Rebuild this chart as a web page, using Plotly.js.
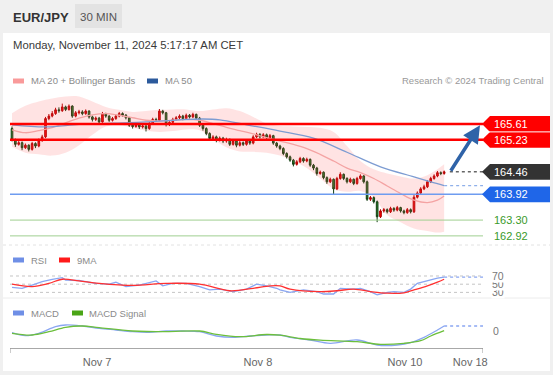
<!DOCTYPE html>
<html><head><meta charset="utf-8">
<script src="https://cdn.plot.ly/plotly-3.0.1.min.js"></script>
<style>html,body{margin:0;padding:0;background:#f0f0f0;}#chart{width:553px;height:375px;}</style>
</head><body><div id="chart"></div>
<script>
// ---------- DATA ----------
const opens = [
165.50,165.23,165.12,165.16,165.04,165.10,165.00,165.14,165.08,165.22,
165.30,165.74,165.80,165.86,165.95,165.93,166.02,165.96,166.04,165.80,
165.88,165.90,165.86,165.92,165.78,165.72,165.75,165.66,165.85,165.80,
165.70,165.74,165.80,165.86,165.82,165.76,165.58,165.55,165.60,165.54,
165.56,165.50,165.62,165.72,165.70,165.92,165.88,165.60,165.65,165.72,
165.76,165.80,165.74,165.82,165.78,165.84,165.75,165.58,165.50,165.38,
165.26,165.30,165.22,165.27,165.20,165.24,165.12,165.20,165.10,165.16,
165.12,165.20,165.15,165.30,165.36,165.30,165.35,165.28,165.33,165.15,
165.08,165.02,164.90,164.82,164.74,164.64,164.70,164.78,164.72,164.76,
164.62,164.55,164.42,164.45,164.32,164.22,164.28,164.05,164.30,164.40,
164.30,164.22,164.28,164.18,164.30,164.36,164.22,163.80,163.84,163.74,
163.38,163.52,163.55,163.50,163.58,163.54,163.60,163.52,163.48,163.55,
163.50,163.85,163.95,164.05,164.10,164.22,164.30,164.36,164.44,164.42];
const highs = [
165.55,165.26,165.20,165.19,165.14,165.12,165.18,165.17,165.26,165.35,
165.78,165.85,165.92,166.00,166.01,166.10,166.05,166.08,166.06,165.92,
165.95,165.94,165.96,165.94,165.81,165.79,165.78,165.90,165.88,165.82,
165.78,165.84,165.90,165.89,165.85,165.78,165.62,165.64,165.63,165.60,
165.59,165.66,165.76,165.76,165.97,165.95,165.90,165.69,165.76,165.80,
165.84,165.83,165.86,165.85,165.88,165.86,165.78,165.61,165.53,165.41,
165.34,165.33,165.31,165.30,165.28,165.26,165.24,165.22,165.20,165.19,
165.24,165.23,165.34,165.40,165.39,165.39,165.38,165.37,165.35,165.18,
165.11,165.05,164.93,164.85,164.77,164.74,164.82,164.81,164.80,164.78,
164.65,164.58,164.49,164.47,164.35,164.32,164.30,164.34,164.45,164.42,
164.33,164.32,164.30,164.34,164.40,164.38,164.25,163.88,163.87,163.77,
163.56,163.59,163.58,163.62,163.61,163.64,163.62,163.55,163.59,163.58,
163.90,163.99,164.09,164.15,164.26,164.34,164.40,164.48,164.47,164.49];
const lows = [
165.19,165.06,165.09,164.98,165.01,164.95,164.97,165.03,165.05,165.18,
165.27,165.70,165.77,165.83,165.88,165.90,165.92,165.93,165.76,165.77,
165.84,165.82,165.83,165.74,165.67,165.68,165.62,165.64,165.76,165.66,
165.67,165.71,165.77,165.78,165.72,165.54,165.50,165.52,165.49,165.50,
165.43,165.47,165.59,165.66,165.68,165.84,165.55,165.56,165.62,165.69,
165.72,165.70,165.71,165.74,165.75,165.71,165.54,165.45,165.34,165.21,
165.22,165.17,165.19,165.15,165.16,165.08,165.09,165.05,165.07,165.08,
165.09,165.11,165.12,165.27,165.26,165.27,165.24,165.25,165.11,165.04,
164.98,164.86,164.78,164.70,164.59,164.61,164.67,164.68,164.69,164.58,
164.50,164.37,164.39,164.28,164.17,164.19,163.92,164.02,164.27,164.26,
164.18,164.19,164.14,164.15,164.27,164.18,163.76,163.76,163.70,163.25,
163.35,163.48,163.46,163.47,163.50,163.51,163.48,163.44,163.45,163.46,
163.47,163.82,163.92,164.02,164.07,164.19,164.27,164.33,164.38,164.39];
const closes = [
165.23,165.12,165.16,165.04,165.10,165.00,165.14,165.08,165.22,165.30,
165.74,165.80,165.86,165.95,165.93,166.02,165.96,166.04,165.80,165.88,
165.90,165.86,165.92,165.78,165.72,165.75,165.66,165.85,165.80,165.70,
165.74,165.80,165.86,165.82,165.76,165.58,165.55,165.60,165.54,165.56,
165.50,165.62,165.72,165.70,165.92,165.88,165.60,165.65,165.72,165.76,
165.80,165.74,165.82,165.78,165.84,165.75,165.58,165.50,165.38,165.26,
165.30,165.22,165.27,165.20,165.24,165.12,165.20,165.10,165.16,165.12,
165.20,165.15,165.30,165.36,165.30,165.35,165.28,165.33,165.15,165.08,
165.02,164.90,164.82,164.74,164.64,164.70,164.78,164.72,164.76,164.62,
164.55,164.42,164.45,164.32,164.22,164.28,164.05,164.30,164.40,164.30,
164.22,164.28,164.18,164.30,164.36,164.22,163.80,163.84,163.74,163.38,
163.52,163.55,163.50,163.58,163.54,163.60,163.52,163.48,163.55,163.50,
163.85,163.95,164.05,164.10,164.22,164.30,164.36,164.44,164.42,164.46];

const bbIdx   = [0,4,8,12,16,20,24,28,32,36,40,44,48,52,56,60,64,68,72,76,80,84,88,92,96,100,104,108,112,116,120,124,127,129];
const bbUpper = [165.87,166.05,166.15,166.22,166.27,166.27,166.15,166.02,165.95,165.90,165.92,165.95,165.96,165.96,165.92,165.96,165.99,165.92,165.78,165.62,165.56,165.55,165.54,165.52,165.42,165.08,164.72,164.52,164.42,164.35,164.30,164.38,164.52,164.64];
const ma20    = [165.47,165.40,165.45,165.52,165.64,165.75,165.83,165.86,165.82,165.76,165.70,165.68,165.70,165.72,165.70,165.62,165.53,165.45,165.37,165.28,165.20,165.12,165.02,164.88,164.72,164.55,164.44,164.30,164.12,163.94,163.78,163.72,163.78,163.88];
const bbLower = [165.06,164.92,164.88,164.85,164.92,165.10,165.35,165.55,165.58,165.52,165.45,165.42,165.44,165.48,165.46,165.25,165.05,164.95,164.94,164.92,164.85,164.72,164.55,164.30,164.05,163.98,164.00,163.85,163.42,163.25,163.10,163.04,163.00,163.02];

const ma50Idx = [0,10,20,30,40,50,57,62,70,80,90,100,110,120,125,129];
const ma50    = [165.59,165.54,165.60,165.63,165.66,165.71,165.73,165.71,165.59,165.44,165.27,164.93,164.58,164.34,164.22,164.13];

const rsiIdx = [0,3,6,9,12,15,16,20,25,29,31,34,38,42,43,45,48,52,56,59,62,66,70,73,76,79,80,83,87,91,93,96,98,102,104,107,109,112,114,117,119,121,124,127,129];
const rsi    = [42,40,48,56,62,66,60,59,52,50,55,44,48,55,58,46,52,52,44,36,38,32,38,50,46,40,36,30,36,32,26,26,40,38,40,32,24,30,32,30,38,52,58,65,67];
const rsiMaIdx = [0,6,11,15,20,26,36,46,56,65,72,77,80,83,92,97,102,107,112,117,120,124,127,129];
const rsiMa    = [50,44,52,62,58,52,47,52,50,34,40,46,46,38,32,34,38,32,28,29,36,46,55,62];
const rsiLevels = [70,50,30];

const macdIdx = [0,4,8,13,16,21,26,31,36,41,46,51,56,61,66,71,76,80,83,89,95,103,109,115,119,123,127,129];
const macd    = [-0.020,-0.050,-0.026,0.040,0.057,0.047,0.024,0.007,-0.010,-0.016,-0.003,-0.003,-0.010,-0.053,-0.066,-0.053,-0.043,-0.043,-0.066,-0.093,-0.126,-0.093,-0.143,-0.143,-0.120,-0.066,0.007,0.047];
const sigIdx  = [0,6,11,16,21,26,36,46,56,61,68,76,80,86,92,103,110,117,122,125,129];
const signal  = [-0.026,-0.043,-0.010,0.034,0.047,0.030,-0.003,-0.010,-0.003,-0.036,-0.060,-0.038,-0.045,-0.078,-0.095,-0.110,-0.136,-0.126,-0.100,-0.053,0.000];

const resistances = [165.61,165.23];
const lastPrice = 164.46;
const pivot = 163.92;
const supports = [163.30,162.92];
const arrowFrom = [130.7,164.45];
const arrowTo   = [139.7,165.58];

const tickPos    = [25.4,73.4,117.3,136.8];
const tickLabels = ['Nov 7','Nov 8','Nov 10','Nov 18'];

// ---------- LAYOUT HELPERS ----------
const W=553,H=375;
const px=x=>x/W, py=y=>1-y/H;
const FONT='Liberation Sans, Arial, sans-serif';
const xs = closes.map((_,i)=>i);
const X0=-0.6, X1=140.6;
const lastI = xs[xs.length-1];

const traces=[];
traces.push({x:bbIdx,y:bbLower,type:'scatter',mode:'lines',line:{width:0,shape:'spline'},hoverinfo:'skip',yaxis:'y'});
traces.push({x:bbIdx,y:bbUpper,type:'scatter',mode:'lines',line:{width:0,shape:'spline'},fill:'tonexty',fillcolor:'rgba(255,80,80,0.16)',hoverinfo:'skip',yaxis:'y'});
traces.push({x:bbIdx,y:ma20,type:'scatter',mode:'lines',line:{color:'#f4a3a3',width:1.3,shape:'spline'},yaxis:'y'});
traces.push({x:ma50Idx,y:ma50,type:'scatter',mode:'lines',line:{color:'#7d9cd2',width:1.3,shape:'spline'},yaxis:'y'});
traces.push({x:[lastI,X1],y:[ma50[ma50.length-1],ma50[ma50.length-1]],type:'scatter',mode:'lines',line:{color:'#8fb0ea',width:1.3,dash:'dot'},yaxis:'y'});
traces.push({x:[arrowFrom[0],X1],y:[lastPrice,lastPrice],type:'scatter',mode:'lines',line:{color:'#666',width:1.5,dash:'dot'},yaxis:'y'});
traces.push({type:'candlestick',x:xs,open:opens,high:highs,low:lows,close:closes,yaxis:'y',
  increasing:{line:{color:'#b30000',width:1},fillcolor:'#ff0000'},
  decreasing:{line:{color:'#123d12',width:1},fillcolor:'#2b8a2b'},whiskerwidth:0});
rsiLevels.forEach(v=>traces.push({x:[X0,X1],y:[v,v],type:'scatter',mode:'lines',line:{color:'#c4c4c4',width:1,dash:'dot'},yaxis:'y2'}));
traces.push({x:rsiIdx,y:rsi,type:'scatter',mode:'lines',line:{color:'#8aa6f2',width:1.3},yaxis:'y2'});
traces.push({x:[lastI,X1],y:[rsi[rsi.length-1],rsi[rsi.length-1]],type:'scatter',mode:'lines',line:{color:'#8aa6f2',width:1.3,dash:'dot'},yaxis:'y2'});
traces.push({x:rsiMaIdx,y:rsiMa,type:'scatter',mode:'lines',line:{color:'#ff3030',width:1.3,shape:'spline'},yaxis:'y2'});
traces.push({x:macdIdx,y:macd,type:'scatter',mode:'lines',line:{color:'#8aa6f2',width:1.3,shape:'spline'},yaxis:'y3'});
traces.push({x:[lastI,X1],y:[macd[macd.length-1],macd[macd.length-1]],type:'scatter',mode:'lines',line:{color:'#8aa6f2',width:1.3,dash:'dot'},yaxis:'y3'});
traces.push({x:sigIdx,y:signal,type:'scatter',mode:'lines',line:{color:'#6cbf3c',width:1.3,shape:'spline'},yaxis:'y3'});

const shapes=[];
shapes.push({type:'rect',xref:'paper',yref:'paper',x0:px(3),x1:px(550),y0:py(371),y1:py(33),fillcolor:'#ffffff',line:{width:0},layer:'below'});
shapes.push({type:'rect',xref:'paper',yref:'paper',x0:px(75),x1:px(122),y0:py(28),y1:py(4),fillcolor:'#e3e3e3',line:{width:0},layer:'below'});
shapes.push({type:'line',xref:'paper',yref:'paper',x0:px(3),x1:px(550),y0:py(245),y1:py(245),line:{color:'#e2e2e2',width:1,dash:'dot'}});
shapes.push({type:'line',xref:'paper',yref:'paper',x0:px(3),x1:px(550),y0:py(298),y1:py(298),line:{color:'#ececec',width:1}});
resistances.forEach(v=>shapes.push({type:'line',xref:'x',yref:'y',x0:X0,x1:X1,y0:v,y1:v,line:{color:'#ff0000',width:2.5}}));
shapes.push({type:'line',xref:'x',yref:'y',x0:X0,x1:X1,y0:pivot,y1:pivot,line:{color:'#6e9cf0',width:1.5}});
supports.forEach(v=>shapes.push({type:'line',xref:'x',yref:'y',x0:X0,x1:X1,y0:v,y1:v,line:{color:'#9fcf90',width:1}}));
[X0,X1].forEach(v=>shapes.push({type:'line',xref:'x',yref:'paper',x0:v,x1:v,y0:py(348),y1:py(353),line:{color:'#999',width:1}}));
const sw=(x,y,c)=>shapes.push({type:'rect',xref:'paper',yref:'paper',x0:px(x),x1:px(x+11),y0:py(y+2.5),y1:py(y-2.5),fillcolor:c,line:{width:0}});
sw(13,81,'#f99a9a'); sw(147,81,'#2c5a9c');
sw(13,260,'#6f8fe6'); sw(59,260,'#ff1a1a');
sw(13,313,'#6f8fe6'); sw(72,313,'#4aa516');

const tagH=0.19;
const tag=(v,c)=>shapes.push({type:'path',xref:'paper',yref:'y',
  path:`M ${px(482)},${v} L ${px(490)},${v+tagH} L ${px(550)},${v+tagH} L ${px(550)},${v-tagH} L ${px(490)},${v-tagH} Z`,
  fillcolor:c,line:{width:0}});
resistances.forEach(v=>tag(v,'#ff0000'));
tag(lastPrice,'#333333');
tag(pivot,'#1f66e8');
shapes.push({type:'line',xref:'paper',yref:'y',x0:px(488),x1:px(550),y0:(resistances[0]+resistances[1])/2,y1:(resistances[0]+resistances[1])/2,line:{color:'#ffffff',width:1}});

const ann=[];
const txt=(x,y,t,o)=>ann.push(Object.assign({xref:'paper',yref:'paper',x:px(x),y:py(y),xanchor:'left',yanchor:'middle',text:t,showarrow:false,font:{family:FONT,size:9.5,color:'#8a8a8a'}},o||{}));
txt(11,17,'<b>EUR/JPY</b>',{font:{family:FONT,size:13,color:'#333'}});
txt(98.5,16.5,'30 MIN',{xanchor:'center',font:{family:FONT,size:11.5,color:'#555'}});
txt(11,45,'Monday, November 11, 2024 5:17:17 AM CET',{font:{family:FONT,size:11.3,color:'#3a3a3a'}});
txt(29,81,'MA 20 + Bollinger Bands');
txt(163,81,'MA 50');
txt(546,81,'Research © 2024 Trading Central',{xanchor:'right',font:{family:FONT,size:9.5,color:'#999'}});
txt(29,260,'RSI'); txt(75,260,'9MA');
txt(29,313,'MACD'); txt(87,313,'MACD Signal');
const ptxt=(v,t,c)=>ann.push({xref:'paper',yref:'y',x:px(492),y:v,xanchor:'left',yanchor:'middle',text:t,showarrow:false,font:{family:FONT,size:11,color:c}});
resistances.forEach(v=>ptxt(v,v.toFixed(2),'#ffffff'));
ptxt(lastPrice,lastPrice.toFixed(2),'#ffffff');
ptxt(pivot,pivot.toFixed(2),'#ffffff');
supports.forEach(v=>ptxt(v,v.toFixed(2),'#3a9a2a'));
[...rsiLevels].reverse().forEach(v=>ann.push({xref:'paper',yref:'y2',x:px(491),y:v,xanchor:'left',yanchor:'middle',text:String(v),showarrow:false,bgcolor:'#ffffff',borderpad:0,font:{family:FONT,size:10.5,color:'#777'}}));
ann.push({xref:'paper',yref:'y3',x:px(491),y:0,xanchor:'left',yanchor:'middle',text:'0',showarrow:false,font:{family:FONT,size:10.5,color:'#777'}});
ann.push({xref:'x',yref:'y',axref:'x',ayref:'y',x:arrowTo[0],y:arrowTo[1],ax:arrowFrom[0],ay:arrowFrom[1],text:'',showarrow:true,arrowhead:2,arrowsize:1,arrowwidth:3.5,arrowcolor:'#2f63a8',standoff:0,startstandoff:0});

const layout={
  width:W,height:H,margin:{l:0,r:0,t:0,b:0},
  paper_bgcolor:'#f0f0f0',plot_bgcolor:'rgba(0,0,0,0)',showlegend:false,
  font:{family:FONT},
  xaxis:{domain:[px(10),px(483)],range:[X0,X1],anchor:'free',position:py(348),showline:true,linecolor:'#a8a8a8',linewidth:1,
    showgrid:false,zeroline:false,ticks:'outside',ticklen:4,tickcolor:'rgba(0,0,0,0)',tickvals:tickPos,ticktext:tickLabels,tickfont:{family:FONT,size:11,color:'#666'},
    rangeslider:{visible:false},fixedrange:true},
  yaxis:{domain:[py(243),py(90)],range:[162.749,166.427],visible:false,fixedrange:true},
  yaxis2:{domain:[py(298),py(268)],range:[16.3,89.5],visible:false,fixedrange:true},
  yaxis3:{domain:[py(347),py(318)],range:[-0.163,0.127],visible:false,fixedrange:true},
  shapes:shapes,annotations:ann
};
Plotly.newPlot('chart',traces,layout,{displayModeBar:false,staticPlot:true});
</script></body></html>
